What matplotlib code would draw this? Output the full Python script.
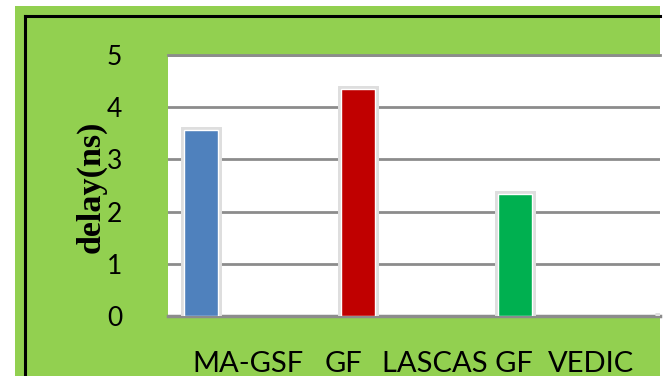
import matplotlib
matplotlib.use("Agg")
import matplotlib.pyplot as plt
from matplotlib.patches import Rectangle
from matplotlib.lines import Line2D
import matplotlib.patheffects as pe

categories = ["MA-GSF", "GF", "LASCAS GF", "VEDIC"]
delays = [3.56, 4.35, 2.34, 0.0]
bar_colors = ["#4F81BD", "#C00000", "#00B050", "#7F7F7F"]
y_ticks = [0, 1, 2, 3, 4, 5]
y_label = "delay(ns)"

W, H = 664, 376
fig = plt.figure(figsize=(W / 100, H / 100), dpi=100, facecolor="white")

def fx(px):
    return px / W

def fy(py):
    return 1 - py / H

# green chart background
fig.patches.append(Rectangle((fx(15), 0), fx(660) - fx(15), fy(6), transform=fig.transFigure,
                             facecolor="#92D050", edgecolor="none", zorder=-2))
# black border lines
fig.lines.append(Line2D([fx(25), fx(660)], [fy(16), fy(16)], transform=fig.transFigure,
                        color="black", lw=2.2, zorder=-1))
fig.lines.append(Line2D([fx(25), fx(25)], [fy(16), 0], transform=fig.transFigure,
                        color="black", lw=2.2, zorder=-1))

left, right, top, bottom = 168, 660, 55, 316
ax = fig.add_axes([fx(left), fy(bottom), fx(right) - fx(left), (bottom - top) / H])
ax.set_zorder(1)
ax.set_facecolor("white")

x = list(range(len(categories)))
bars = ax.bar(x, delays, width=0.22, color=bar_colors, edgecolor="white", linewidth=1.0, zorder=3)
for b in bars:
    b.set_path_effects([pe.Stroke(linewidth=5, foreground="#dedede"), pe.Normal()])

ax.set_xlim(-0.21, 2.924)
ax.set_ylim(0, 5)
ax.set_yticks(y_ticks)
ax.set_yticklabels([str(t) for t in y_ticks], fontsize=19, family="Lato")
ax.set_xticks([])
ax.tick_params(axis="y", length=0, pad=33)
ax.yaxis.grid(True, color="#8C8C8C", linewidth=2.0, zorder=1)
ax.set_axisbelow(True)
for s in ["left", "right"]:
    ax.spines[s].set_visible(False)
ax.spines["top"].set_color("#8C8C8C")
ax.spines["top"].set_linewidth(2.0)
ax.spines["bottom"].set_color("#8C8C8C")
ax.spines["bottom"].set_linewidth(2.5)

fig.text(fx(91), fy(187), y_label, rotation=90, ha="center", va="center",
         family="Liberation Serif", fontweight="bold", fontsize=24.5)

label_x = [192, 325, 382, 548]
for name, lx in zip(categories, label_x):
    fig.text(fx(lx), fy(372), name, ha="left", va="baseline", family="Lato", fontsize=21)

fig.savefig("out.png", dpi=100, facecolor="white")
